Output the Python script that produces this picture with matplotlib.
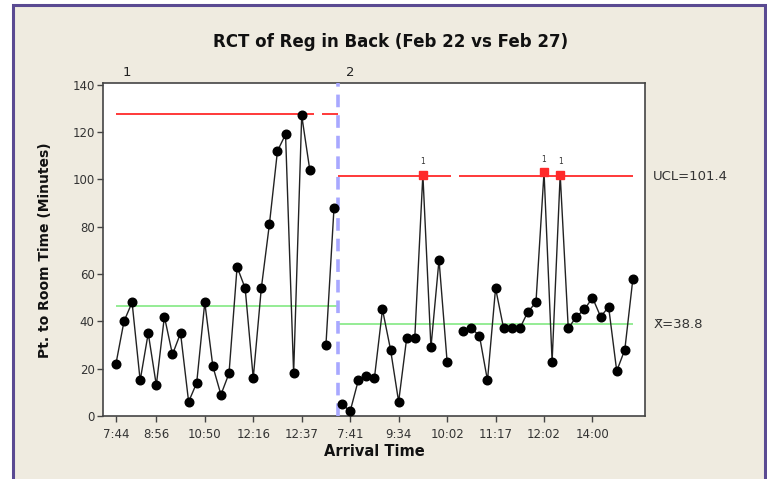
import numpy as np
import matplotlib
matplotlib.use("Agg")
import matplotlib.pyplot as plt
from matplotlib.patches import Rectangle

# ---------------- data ----------------
stage1_values = [22, 40, 48, 15, 35, 13, 42, 26, 35, 6, 14, 48, 21, 9, 18, 63,
                 54, 16, 54, 81, 112, 119, 18, 127, 104, np.nan, 30, 88]
stage2_values = [5, 2, 15, 17, 16, 45, 28, 6, 33, 33, 102, 29, 66, 23, np.nan,
                 36, 37, 34, 15, 54, 37, 37, 37, 44, 48, 103, 23, 102, 37, 42,
                 45, 50, 42, 46, 19, 28, 58]
stage1_ucl, stage1_cl = 127.6, 46.5
stage2_ucl, stage2_cl = 101.4, 38.8
tick_obs = [0, 5, 11, 17, 23, 29, 35, 41, 47, 53, 59]
tick_labels = ["7:44", "8:56", "10:50", "12:16", "12:37", "7:41", "9:34",
               "10:02", "11:17", "12:02", "14:00"]
title = "RCT of Reg in Back (Feb 22 vs Feb 27)"
ylabel = "Pt. to Room Time (Minutes)"
xlabel = "Arrival Time"

# ---------------- figure ----------------
W, H = 767, 479
fig = plt.figure(figsize=(W / 100, H / 100), dpi=100, facecolor="white")
beige = "#EFEBE0"
purple = "#5A4A92"
fig.patches.append(Rectangle((13 / W, -0.1), (765 - 13) / W, 1.1 - 5 / H,
                             transform=fig.transFigure, facecolor=beige,
                             edgecolor=purple, linewidth=2.2, zorder=-10))

ax = fig.add_axes([103 / W, 1 - 416 / H, (645 - 103) / W, (416 - 83) / H])
ax.set_zorder(5)
ax.set_facecolor("white")
for s in ax.spines.values():
    s.set_color("#444444")
    s.set_linewidth(1.2)

v1 = np.array(stage1_values, dtype=float)
v2 = np.array(stage2_values, dtype=float)
n1, n2 = len(v1), len(v2)
x1 = np.arange(n1)
x2 = np.arange(n1, n1 + n2)
boundary = n1 - 0.5


def limit_line(xs, vals, level, start, end, color, lw, break_missing=True):
    segs = []
    for xi, vi in zip(xs, vals):
        if break_missing and np.isnan(vi):
            continue
        a = max(xi - 0.5, start)
        b = min(xi + 0.5, end)
        if segs and abs(segs[-1][1] - a) < 1e-9:
            segs[-1][1] = b
        else:
            segs.append([a, b])
    for a, b in segs:
        ax.plot([a, b], [level, level], color=color, lw=lw, zorder=2,
                solid_capstyle="butt")


red = "#FF2A2A"
green = "#8CEB8C"
limit_line(x1, v1, stage1_ucl, 0, boundary, red, 1.3)
limit_line(x1, v1, stage1_cl, 0, boundary, green, 1.3, break_missing=False)
limit_line(x2, v2, stage2_ucl, boundary, x2[-1], red, 1.3)
limit_line(x2, v2, stage2_cl, boundary, x2[-1], green, 1.3, break_missing=False)

ax.axvline(boundary, color="#A8A8FF", lw=2.6, ls=(0, (3.5, 2.2)), zorder=3)

for xs, vs, ucl in [(x1, v1, stage1_ucl), (x2, v2, stage2_ucl)]:
    ax.plot(xs, vs, color="#222222", lw=1.0, zorder=4)
    ooc = vs > ucl
    ok = ~ooc & ~np.isnan(vs)
    ax.plot(xs[ok], vs[ok], "o", color="black", ms=6.2, zorder=5)
    ax.plot(xs[ooc], vs[ooc], "s", color=red, ms=6.2, zorder=5)
    for xi, vi in zip(xs[ooc], vs[ooc]):
        ax.annotate("1", (xi, vi), xytext=(0, 6), textcoords="offset points",
                    ha="center", va="bottom", fontsize=5.5, color="#333333")

ax.set_xlim(-1.6, 65.5)
ax.set_ylim(0, 140.7)
ax.set_yticks(np.arange(0, 141, 20))
ax.set_xticks(tick_obs)
ax.set_xticklabels(tick_labels)
ax.tick_params(axis="both", direction="out", length=4, width=1,
               color="#444444", labelsize=8.5, labelcolor="#333333")
ax.tick_params(axis="x", pad=5)
ax.tick_params(axis="y", pad=2)

# stage labels
ax.text(1.3, 1.012, "1", transform=ax.get_xaxis_transform(), ha="center",
        va="bottom", fontsize=9.5, color="#222222")
ax.text(29.0, 1.012, "2", transform=ax.get_xaxis_transform(), ha="center",
        va="bottom", fontsize=9.5, color="#222222")

# right side labels
ax.text(1.015, stage2_ucl, f"UCL={stage2_ucl:.1f}", transform=ax.get_yaxis_transform(),
        ha="left", va="center", fontsize=9.5, color="#333333")
ax.text(1.015, stage2_cl, f"X\u0304={stage2_cl:.1f}", transform=ax.get_yaxis_transform(),
        ha="left", va="center", fontsize=9.5, color="#333333")

fig.text(391 / W, 1 - 42 / H, title, ha="center", va="center",
         fontsize=12, fontweight="bold", color="#111111")
fig.text(374 / W, 1 - 452 / H, xlabel, ha="center", va="center",
         fontsize=10.5, fontweight="bold", color="#111111")
fig.text(45 / W, 1 - 250 / H, ylabel, ha="center", va="center", rotation=90,
         fontsize=10, fontweight="bold", color="#111111")

fig.savefig("out.png", dpi=100, facecolor=fig.get_facecolor())
